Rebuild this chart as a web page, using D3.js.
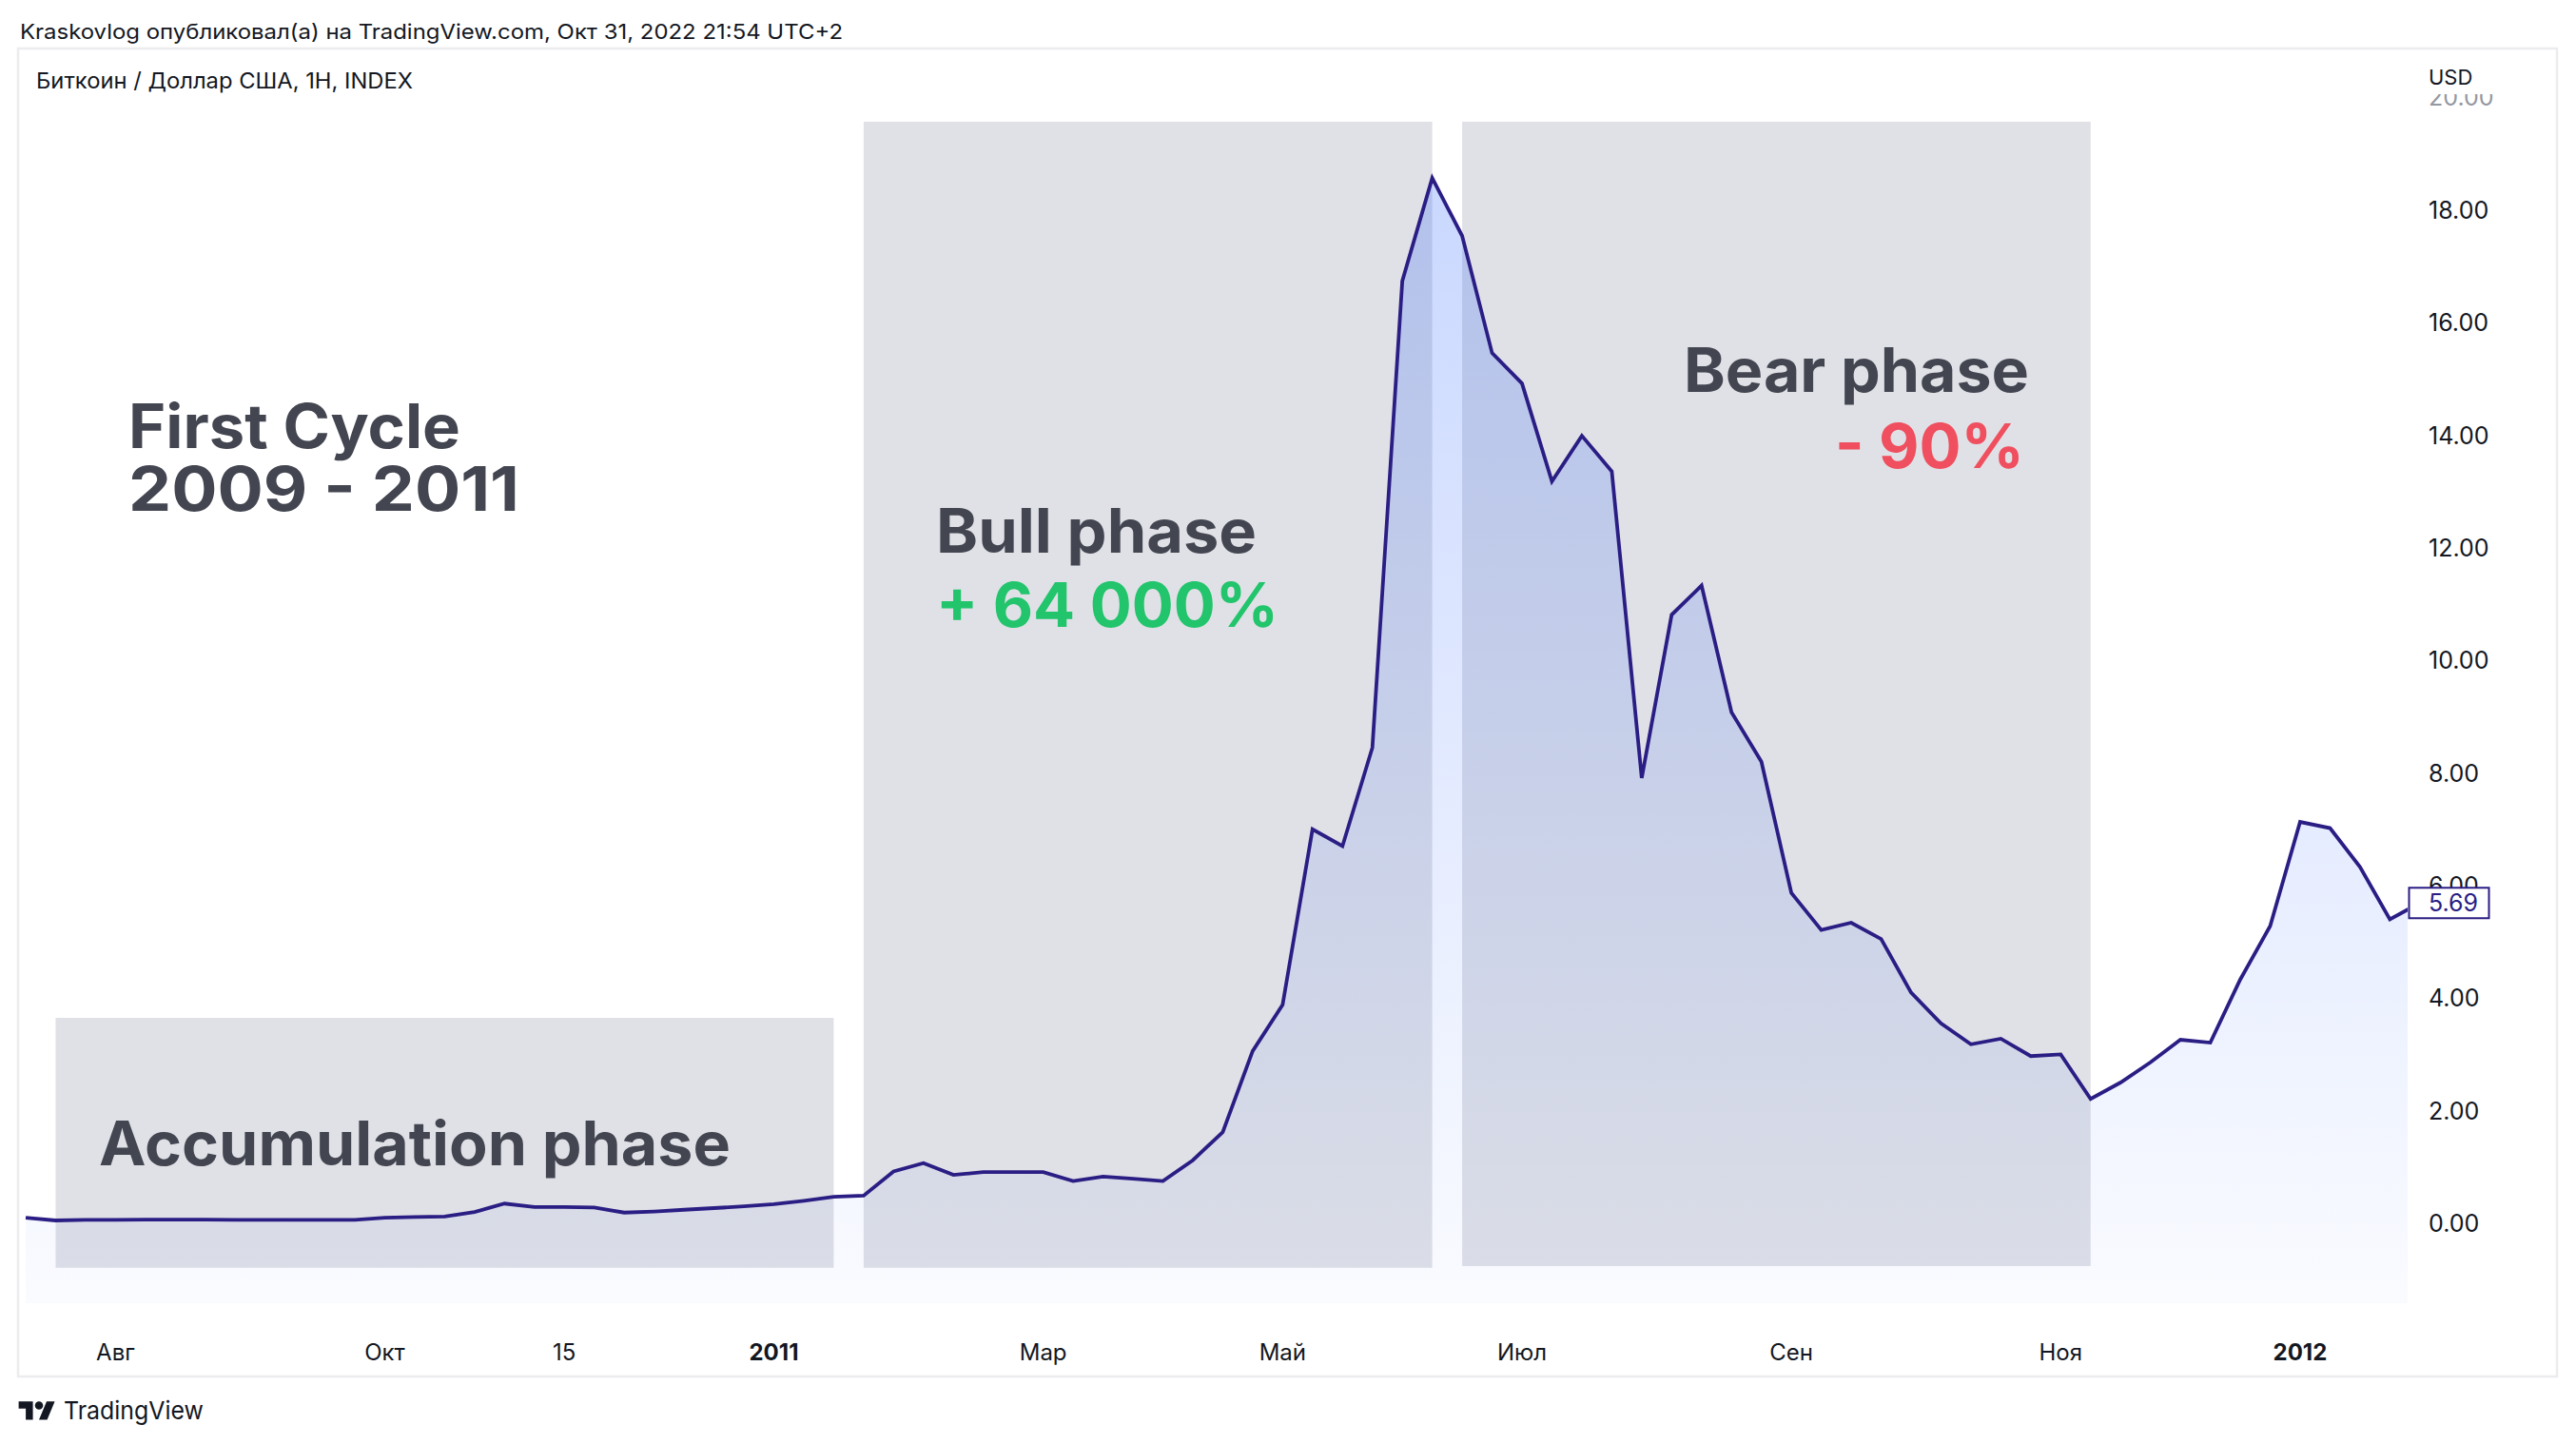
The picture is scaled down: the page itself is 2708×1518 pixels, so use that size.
<!DOCTYPE html>
<html>
<head>
<meta charset="utf-8">
<script src="https://cdn.jsdelivr.net/npm/d3@7/dist/d3.min.js"></script>
<style>
  html, body { margin: 0; padding: 0; background: #ffffff; }
  svg { display: block; }
</style>
</head>
<body>
<svg id="chart" width="2708" height="1518"></svg>
<script>
// ---------------- DATA ----------------
// weekly bars (index 0 .. 80), BTC/USD close
const barIndex = d3.range(0, 81);
const closes = [
  0.10, 0.05, 0.06, 0.06, 0.065, 0.065, 0.065, 0.06, 0.06, 0.06,
  0.06, 0.06, 0.10, 0.11, 0.12, 0.20, 0.35, 0.29, 0.29, 0.28,
  0.19, 0.21, 0.24, 0.27, 0.30, 0.34, 0.40, 0.47, 0.49, 0.92,
  1.07, 0.86, 0.91, 0.91, 0.91, 0.75, 0.83, 0.79, 0.75, 1.12,
  1.62, 3.06, 3.88, 7.00, 6.70, 8.45, 16.74, 18.57, 17.54, 15.46,
  14.92, 13.18, 13.99, 13.36, 7.91, 10.81, 11.33, 9.08, 8.20, 5.87,
  5.21, 5.34, 5.05, 4.10, 3.55, 3.18, 3.28, 2.97, 3.00, 2.21,
  2.50, 2.86, 3.26, 3.21, 4.33, 5.28, 7.13, 7.02, 6.33, 5.40,
  5.69
];
const lastPriceLabel = "5.69";

// time axis ticks (bar index -> label)
const xTickIndex  = [3, 12, 18, 25, 34, 42, 50, 59, 68, 76];
const xTickLabels = ["Авг", "Окт", "15", "2011", "Мар", "Май", "Июл", "Сен", "Ноя", "2012"];
const xTickBold   = [false, false, false, true, false, false, false, false, false, true];

// price axis ticks
const yTickValues = [0, 2, 4, 6, 8, 10, 12, 14, 16, 18, 20];

// phase boxes (bar index range, price range)
const phaseNames  = ["Accumulation", "Bull", "Bear"];
const phaseStart  = [1, 28, 48];
const phaseEnd    = [27, 47, 69];
const phaseLow    = [-0.79, -0.79, -0.76];
const phaseHigh   = [3.65, 19.57, 19.57];

// texts
const headerText   = "Kraskovlog опубликовал(а) на TradingView.com, Окт 31, 2022 21:54 UTC+2";
const symbolText   = "Биткоин / Доллар США, 1H, INDEX";
const currencyText = "USD";

// ---------------- LAYOUT ----------------
const W = 2708, H = 1518;
const frame = { left: 19, top: 51, right: 2688, bottom: 1447 };
const pane  = { left: 19, top: 51, right: 2531, bottom: 1370 };
const priceLabelX = 2553;
const FONT = "Inter, 'Noto Sans', 'DejaVu Sans', sans-serif";
const TEXT = "#131722";
const LINE = "#2a1d84";
const BOX  = "#e0e1e6";

const svg = d3.select("#chart");

const x = d3.scaleLinear().domain([0, 80]).range([27.0, 27.0 + 80 * 31.46]);
const y = d3.scaleLinear().domain([-1.42, 20.87]).range([pane.bottom, pane.top]);

// background
svg.append("rect").attr("x", 0).attr("y", 0).attr("width", W).attr("height", H).attr("fill", "#ffffff");

// defs
const defs = svg.append("defs");
defs.append("clipPath").attr("id", "paneClip")
  .append("rect").attr("x", pane.left).attr("y", pane.top)
  .attr("width", pane.right - pane.left).attr("height", pane.bottom - pane.top);
defs.append("clipPath").attr("id", "axisClip")
  .append("rect").attr("x", pane.right).attr("y", 99)
  .attr("width", frame.right - pane.right).attr("height", pane.bottom - 99);

const grad = defs.append("linearGradient").attr("id", "areaGrad")
  .attr("gradientUnits", "userSpaceOnUse")
  .attr("x1", 0).attr("x2", 0)
  .attr("y1", y(d3.max(closes))).attr("y2", pane.bottom);
grad.append("stop").attr("offset", "0%").attr("stop-color", "rgb(41,98,255)").attr("stop-opacity", 0.25);
grad.append("stop").attr("offset", "100%").attr("stop-color", "rgb(41,98,255)").attr("stop-opacity", 0.025);

// header
svg.append("text").attr("x", 21).attr("y", 41)
  .attr("font-family", FONT).attr("font-size", 22).attr("fill", TEXT)
  .attr("textLength", 865).attr("lengthAdjust", "spacingAndGlyphs")
  .text(headerText);

// frame
svg.append("rect")
  .attr("x", frame.left).attr("y", frame.top)
  .attr("width", frame.right - frame.left).attr("height", frame.bottom - frame.top)
  .attr("fill", "none").attr("stroke", "#ececee").attr("stroke-width", 2.5);

// pane content
const paneG = svg.append("g").attr("clip-path", "url(#paneClip)");

// phase boxes
paneG.selectAll("rect.phase")
  .data(phaseNames.map((n, i) => ({ n, s: phaseStart[i], e: phaseEnd[i], lo: phaseLow[i], hi: phaseHigh[i] })))
  .join("rect").attr("class", "phase")
  .attr("x", d => x(d.s)).attr("width", d => x(d.e) - x(d.s))
  .attr("y", d => y(d.hi)).attr("height", d => y(d.lo) - y(d.hi))
  .attr("fill", BOX);

const series = barIndex.map((i) => ({ i, v: closes[i] }));

paneG.append("path").datum(series)
  .attr("d", d3.area().x(d => x(d.i)).y0(pane.bottom).y1(d => y(d.v)))
  .attr("fill", "url(#areaGrad)");

paneG.append("path").datum(series)
  .attr("d", d3.line().x(d => x(d.i)).y(d => y(d.v)))
  .attr("fill", "none").attr("stroke", LINE).attr("stroke-width", 3.8)
  .attr("stroke-linejoin", "miter").attr("stroke-miterlimit", 4);

// symbol title
svg.append("text").attr("x", 38).attr("y", 93)
  .attr("font-family", FONT).attr("font-size", 23).attr("fill", TEXT)
  .attr("textLength", 396).attr("lengthAdjust", "spacingAndGlyphs")
  .text(symbolText);

// price axis
const axisG = svg.append("g").attr("clip-path", "url(#axisClip)");
axisG.selectAll("text.ytick").data(yTickValues).join("text").attr("class", "ytick")
  .attr("x", priceLabelX).attr("y", d => y(d) + 9)
  .attr("font-family", FONT).attr("font-size", 25)
  .attr("fill", d => d === 20 ? "#9598a1" : TEXT)
  .text(d => d3.format(".2f")(d));

svg.append("text").attr("x", priceLabelX).attr("y", 89)
  .attr("font-family", FONT).attr("font-size", 22).attr("fill", TEXT)
  .text(currencyText);

// last price tag
const lastV = closes[closes.length - 1];
svg.append("rect").attr("x", pane.right + 1.5).attr("y", y(lastV) - 16)
  .attr("width", 84).attr("height", 32)
  .attr("fill", "#ffffff").attr("stroke", LINE).attr("stroke-width", 2);
svg.append("text").attr("x", priceLabelX).attr("y", y(lastV) + 9)
  .attr("font-family", FONT).attr("font-size", 25).attr("fill", LINE)
  .text(lastPriceLabel);

// time axis
svg.selectAll("text.xtick").data(xTickIndex).join("text").attr("class", "xtick")
  .attr("x", d => x(d)).attr("y", 1430)
  .attr("text-anchor", "middle")
  .attr("font-family", FONT).attr("font-size", 24)
  .attr("font-weight", (d, i) => xTickBold[i] ? 700 : 400)
  .attr("fill", TEXT)
  .text((d, i) => xTickLabels[i]);

// annotations
const ann = svg.append("g").attr("font-family", FONT).attr("font-weight", 700).attr("font-size", 64);
function label(txt, xx, yy, len, color, anchor) {
  ann.append("text").attr("x", xx).attr("y", yy)
    .attr("fill", color).attr("text-anchor", anchor || "start")
    .attr("textLength", len).attr("lengthAdjust", "spacingAndGlyphs")
    .text(txt);
}
const DARK = "#434651";
label("First Cycle", 135, 471, 349, DARK);
label("2009 - 2011", 135, 537, 411, DARK);
label("Accumulation phase", 104, 1225, 664, DARK);
label("Bull phase", 984, 581, 337, DARK);
label("+ 64 000%", 984, 659, 360, "#22c46c");
label("Bear phase", 1770, 412, 363, DARK);
label("- 90%", 1929, 492, 199, "#ef4f5e");

// TradingView logo
const logo = svg.append("g").attr("transform", "translate(19.6,1469) scale(1.07)");
logo.append("path").attr("d", "M14 22H7V11H0V4h14v18z").attr("fill", TEXT);
logo.append("circle").attr("cx", 20).attr("cy", 8).attr("r", 4).attr("fill", TEXT);
logo.append("path").attr("d", "M28 22h-8l7.5-18h8L28 22z").attr("fill", TEXT);
svg.append("text").attr("x", 67).attr("y", 1492)
  .attr("font-family", FONT).attr("font-size", 26).attr("fill", TEXT)
  .attr("textLength", 147).attr("lengthAdjust", "spacingAndGlyphs")
  .text("TradingView");
</script>
</body>
</html>
